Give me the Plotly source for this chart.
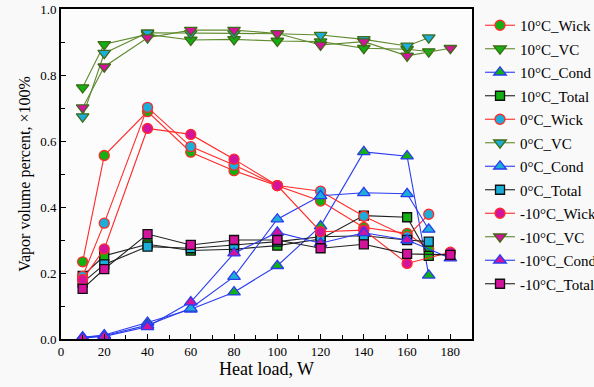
import plotly.graph_objects as go

# Heat load points (W)
heat_10 = [10, 20, 40, 60, 80, 100, 120, 140, 160, 170]
heat_0 = [10, 20, 40, 60, 80, 100, 120, 140, 160, 170]
heat_m10 = [10, 20, 40, 60, 80, 100, 120, 140, 160, 180]

# Vapor volume fraction, 10 °C
wick_10 = [0.234, 0.556, 0.689, 0.566, 0.510, 0.465, 0.418, 0.338, 0.320, 0.273]
vc_10 = [0.762, 0.893, 0.923, 0.906, 0.908, 0.903, 0.901, 0.881, 0.878, 0.871]
cond_10 = [0.005, 0.012, 0.050, 0.090, 0.142, 0.222, 0.342, 0.567, 0.554, 0.193]
total_10 = [0.191, 0.252, 0.287, 0.268, 0.272, 0.283, 0.303, 0.374, 0.369, 0.252]

# Vapor volume fraction, 0 °C
wick_0 = [0.190, 0.351, 0.702, 0.583, 0.527, 0.465, 0.448, 0.372, 0.310, 0.378]
vc_0 = [0.674, 0.866, 0.928, 0.926, 0.926, 0.925, 0.921, 0.908, 0.888, 0.913]
cond_0 = [0.005, 0.010, 0.042, 0.093, 0.189, 0.363, 0.434, 0.443, 0.440, 0.332]
total_0 = [0.171, 0.226, 0.280, 0.275, 0.285, 0.295, 0.310, 0.313, 0.300, 0.295]

# Vapor volume fraction, -10 °C
wick_m10 = [0.180, 0.273, 0.638, 0.620, 0.545, 0.465, 0.325, 0.330, 0.229, 0.263]
vc_m10 = [0.701, 0.825, 0.913, 0.936, 0.936, 0.926, 0.891, 0.901, 0.858, 0.881]
cond_m10 = [0.003, 0.008, 0.037, 0.112, 0.260, 0.323, 0.290, 0.322, 0.300, 0.245]
total_m10 = [0.152, 0.212, 0.318, 0.285, 0.300, 0.300, 0.275, 0.287, 0.258, 0.255]

temps = ["10°C", "0°C", "-10°C"]
heat = {"10°C": heat_10, "0°C": heat_0, "-10°C": heat_m10}
series = {
    "10°C": [("Wick", wick_10), ("VC", vc_10), ("Cond", cond_10), ("Total", total_10)],
    "0°C": [("Wick", wick_0), ("VC", vc_0), ("Cond", cond_0), ("Total", total_0)],
    "-10°C": [("Wick", wick_m10), ("VC", vc_m10), ("Cond", cond_m10), ("Total", total_m10)],
}

fill = {"10°C": "#12b012", "0°C": "#1aaed8", "-10°C": "#d4139c"}
style = {
    "Wick": dict(symbol="circle", line="#ff2a2a", edge="#ff2a2a", size=10),
    "VC": dict(symbol="triangle-down", line="#5f8a2e", edge="#3f6a16", size=11),
    "Cond": dict(symbol="triangle-up", line="#2a3cf0", edge="#2a3cf0", size=11),
    "Total": dict(symbol="square", line="#202020", edge="#101010", size=9),
}

serif = "Liberation Serif, Times New Roman, serif"

fig = go.Figure()
for t in temps:
    for part, vals in series[t]:
        s = style[part]
        name = f"{t}_{part}"
        fig.add_trace(go.Scatter(
            x=heat[t], y=vals, mode="lines+markers",
            name=name, legendgroup=name,
            line=dict(color=s["line"], width=1.1),
            marker=dict(symbol=s["symbol"], size=s["size"], color=fill[t],
                        line=dict(color=s["edge"], width=1.3)),
        ))

axis_common = dict(
    showline=True, linecolor="black", linewidth=1.6, mirror=True,
    ticks="inside", ticklen=5, tickwidth=1.2, tickcolor="black",
    showgrid=False, zeroline=False,
    tickfont=dict(family=serif, size=13, color="black"),
)

fig.update_xaxes(
    range=[0, 190], dtick=20, tick0=0,
    minor=dict(dtick=10, ticks="inside", ticklen=4, tickcolor="black"),
    title=dict(text="Heat load, W", font=dict(family=serif, size=18, color="black"), standoff=4),
    **axis_common,
)
fig.update_yaxes(
    range=[0, 1.0], dtick=0.2, tick0=0, tickformat=".1f",
    minor=dict(dtick=0.1, ticks="inside", ticklen=4, tickcolor="black"),
    title=dict(text="Vapor volume percent, ×100%", font=dict(family=serif, size=16, color="black"), standoff=6),
    **axis_common,
)

fig.update_layout(
    width=594, height=387,
    margin=dict(l=61, r=122, t=9, b=48, autoexpand=False),
    paper_bgcolor="#f9f9f9", plot_bgcolor="#fcfcfc",
    showlegend=True,
    legend=dict(
        x=1.0195, y=1.0, xanchor="left", yanchor="top",
        font=dict(family=serif, size=15, color="black"),
        bgcolor="rgba(0,0,0,0)", borderwidth=0,
        tracegroupgap=1, itemwidth=30,
    ),
)

fig.write_html("out.html")
